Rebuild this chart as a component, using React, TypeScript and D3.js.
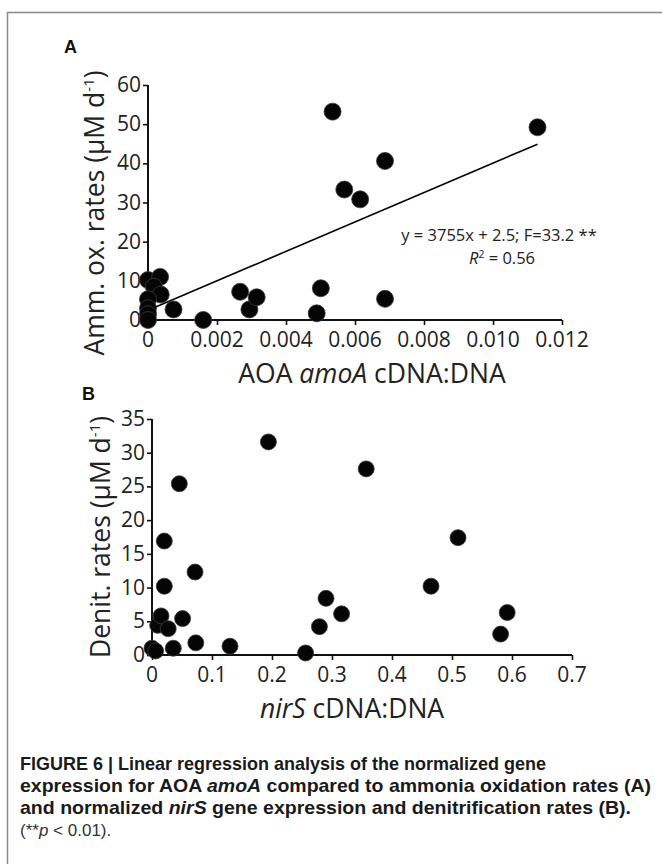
import { useEffect, useRef } from 'react'
import * as d3 from 'd3'

// panel A: AOA amoA cDNA:DNA vs ammonia oxidation rates
const ammX = [0, 0.00035, 0.00017, 0.00037, 0, 0, 0, 0, 0.00074, 0.0016, 0.00267, 0.00294, 0.00315, 0.00489, 0.00501, 0.00535, 0.00569, 0.00615, 0.00687, 0.00687, 0.01129]
const ammY = [10.2, 11, 8.5, 6.5, 5.3, 3, 1.5, 0, 2.7, 0, 7.2, 2.7, 5.8, 1.7, 8.1, 53.2, 33.3, 30.8, 40.6, 5.4, 49.2]
const ammTicksX = [0, 0.002, 0.004, 0.006, 0.008, 0.01, 0.012]
const ammTickLabelsX = ['0', '0.002', '0.004', '0.006', '0.008', '0.010', '0.012']
const ammTicksY = [0, 10, 20, 30, 40, 50, 60]
const fitSlope = 3755
const fitIntercept = 2.5

// panel B: nirS cDNA:DNA vs denitrification rates
const nirX = [0, 0.006, 0.0355, 0.073, 0.13, 0.256, 0.0095, 0.015, 0.027, 0.051, 0.0205, 0.0205, 0.0717, 0.0455, 0.194, 0.279, 0.29, 0.316, 0.357, 0.465, 0.51, 0.581, 0.592]
const nirY = [1.0, 0.6, 1.0, 1.8, 1.3, 0.3, 4.4, 5.8, 3.9, 5.4, 10.2, 16.9, 12.3, 25.4, 31.6, 4.2, 8.4, 6.1, 27.6, 10.2, 17.4, 3.1, 6.3]
const nirTicksX = [0, 0.1, 0.2, 0.3, 0.4, 0.5, 0.6, 0.7]
const nirTicksY = [0, 5, 10, 15, 20, 25, 30, 35]

const FONT = "'Open Sans', sans-serif"

const Figure = () => {
  const ref = useRef<SVGSVGElement>(null)

  useEffect(() => {
    const svg = d3.select(ref.current)
    svg.selectAll('*').remove()

    // frame
    svg.append('rect')
       .attr('x', 7.5).attr('y', 12.5)
       .attr('width', 700).attr('height', 900)
       .attr('fill', 'none')
       .attr('stroke', '#8a8a8a')
       .attr('stroke-width', 1.5)

    const drawPanel = (opts: any) => {
      const { x, y, xs, ys, ticksX, tickLabelsX, ticksY, r } = opts
      const g = svg.append('g')

      // x axis
      g.append('g')
       .attr('transform', `translate(0,${y.range()[0]})`)
       .call(d3.axisBottom(x).tickValues(ticksX).tickSize(5).tickFormat(() => ''))
       .call(a => a.select('.domain').attr('stroke', '#111').attr('stroke-width', 2).attr('d', `M${x.range()[0]},0H${x.range()[1]}`))
       .call(a => a.selectAll('.tick line').attr('stroke', '#111').attr('stroke-width', 1.6))

      g.selectAll('.xl')
       .data(ticksX)
       .join('text')
       .attr('x', (d: number) => x(d))
       .attr('y', y.range()[0] + 27)
       .attr('text-anchor', 'middle')
       .attr('font-family', FONT)
       .attr('font-size', 21)
       .attr('fill', '#222')
       .text((d: number, i: number) => tickLabelsX[i])

      // y axis
      g.append('g')
       .attr('transform', `translate(${x.range()[0]},0)`)
       .call(d3.axisLeft(y).tickValues(ticksY).tickSize(5).tickFormat(() => ''))
       .call(a => a.select('.domain').attr('stroke', '#111').attr('stroke-width', 2).attr('d', `M0,${y.range()[0]}V${y.range()[1]}`))
       .call(a => a.selectAll('.tick line').attr('stroke', '#111').attr('stroke-width', 1.6))

      g.selectAll('.yl')
       .data(ticksY)
       .join('text')
       .attr('x', x.range()[0] - 7)
       .attr('y', (d: number) => y(d) + 7)
       .attr('text-anchor', 'end')
       .attr('font-family', FONT)
       .attr('font-size', 21)
       .attr('fill', '#222')
       .text((d: number) => String(d))

      if (opts.fit) {
        const x1 = d3.max(xs) as number
        g.append('line')
         .attr('x1', x(0)).attr('y1', y(fitIntercept))
         .attr('x2', x(x1)).attr('y2', y(fitSlope * x1 + fitIntercept))
         .attr('stroke', '#000')
         .attr('stroke-width', 1.6)
      }

      g.selectAll('circle')
       .data(xs.map((v: number, i: number) => [v, ys[i]]))
       .join('circle')
       .attr('cx', (d: number[]) => x(d[0]))
       .attr('cy', (d: number[]) => y(d[1]))
       .attr('r', r)
       .attr('fill', '#050505')
       .attr('stroke', '#3a3a3a')
       .attr('stroke-width', 0.8)
      return g
    }

    // panel A
    const xA = d3.scaleLinear().domain([0, 0.012]).range([148, 562])
    const yA = d3.scaleLinear().domain([0, 60]).range([320, 85])
    drawPanel({ x: xA, y: yA, xs: ammX, ys: ammY, ticksX: ammTicksX, tickLabelsX: ammTickLabelsX, ticksY: ammTicksY, r: 8.5, fit: true })

    // panel B
    const xB = d3.scaleLinear().domain([0, 0.7]).range([152, 572])
    const yB = d3.scaleLinear().domain([0, 35]).range([655, 419])
    drawPanel({ x: xB, y: yB, xs: nirX, ys: nirY, ticksX: nirTicksX, tickLabelsX: nirTicksX.map(String), ticksY: nirTicksY, r: 8 })

    const label = (t: string, x: number, y: number) =>
      svg.append('text').attr('x', x).attr('y', y)
         .attr('font-family', "'Liberation Sans', Arial, sans-serif")
         .attr('font-weight', 'bold').attr('font-size', 18).attr('fill', '#111').text(t)
    label('A', 64, 53)
    label('B', 82, 400)

    // rotated y titles
    const yTitle = (t: string, cx: number, cy: number) => {
      const tx = svg.append('text')
        .attr('transform', `translate(${cx},${cy}) rotate(-90)`)
        .attr('text-anchor', 'middle')
        .attr('font-family', FONT).attr('font-size', 26.5).attr('fill', '#222')
      tx.append('tspan').text(t + ' (μM d')
      tx.append('tspan').attr('dy', -10).attr('font-size', 15).text('-1')
      tx.append('tspan').attr('dy', 10).text(')')
    }
    yTitle('Amm. ox. rates', 104, 213)
    yTitle('Denit. rates', 110, 537)

    // x titles
    const xt1 = svg.append('text').attr('x', 372).attr('y', 383).attr('text-anchor', 'middle')
      .attr('font-family', FONT).attr('font-size', 26.5).attr('fill', '#222')
    xt1.append('tspan').text('AOA ')
    xt1.append('tspan').attr('font-style', 'italic').text('amoA')
    xt1.append('tspan').text(' cDNA:DNA')

    const xt2 = svg.append('text').attr('x', 352).attr('y', 718).attr('text-anchor', 'middle')
      .attr('font-family', FONT).attr('font-size', 26.5).attr('fill', '#222')
    xt2.append('tspan').attr('font-style', 'italic').text('nirS')
    xt2.append('tspan').text(' cDNA:DNA')

    // regression annotation
    svg.append('text').attr('x', 499).attr('y', 241).attr('text-anchor', 'middle')
       .attr('font-family', FONT).attr('font-size', 16.5).attr('fill', '#222')
       .text('y = 3755x + 2.5; F=33.2 **')
    const r2 = svg.append('text').attr('x', 502).attr('y', 264).attr('text-anchor', 'middle')
       .attr('font-family', FONT).attr('font-size', 16.5).attr('fill', '#222')
    r2.append('tspan').attr('font-style', 'italic').text('R')
    r2.append('tspan').attr('dy', -6).attr('font-size', 10.5).text('2')
    r2.append('tspan').attr('dy', 6).text(' = 0.56')

    // caption
    const capFont = "'Liberation Sans Narrow', 'Liberation Sans', Arial, sans-serif"
    const cap = (y: number, len: number, parts: [string, boolean][]) => {
      const t = svg.append('text').attr('x', 20).attr('y', y)
        .attr('font-family', capFont).attr('font-weight', 'bold').attr('font-size', 19)
        .attr('fill', '#1a1a1a')
        .attr('textLength', len).attr('lengthAdjust', 'spacingAndGlyphs')
      parts.forEach(([s, it]) => t.append('tspan').attr('font-style', it ? 'italic' : 'normal').text(s))
    }
    cap(770, 526, [['FIGURE 6 | Linear regression analysis of the normalized gene', false]])
    cap(792, 631, [['expression for AOA ', false], ['amoA', true], [' compared to ammonia oxidation rates (A)', false]])
    cap(814, 611, [['and normalized ', false], ['nirS', true], [' gene expression and denitrification rates (B).', false]])
    const p = svg.append('text').attr('x', 20).attr('y', 836)
      .attr('font-family', capFont).attr('font-size', 17).attr('fill', '#333')
    p.append('tspan').text('(**')
    p.append('tspan').attr('font-style', 'italic').text('p')
    p.append('tspan').text(' < 0.01).')
  }, [])

  return <svg ref={ref} width={662} height={864} style={{ position: 'absolute', left: 0, top: 0 }}></svg>
}

export default function App() {
  return <Figure />
}
